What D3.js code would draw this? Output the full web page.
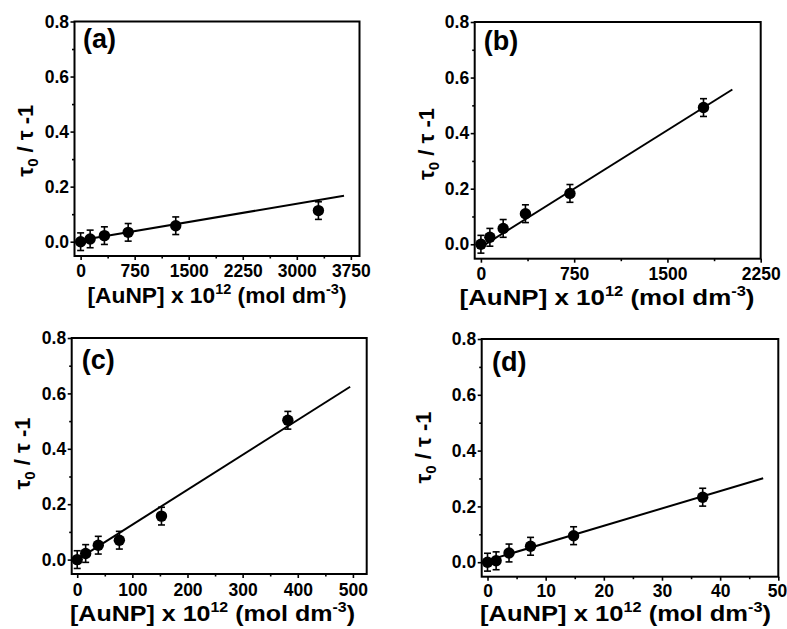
<!DOCTYPE html>
<html><head><meta charset="utf-8">
<script src="https://cdn.jsdelivr.net/npm/d3@7"></script>
<style>
body{margin:0;background:#fff}
svg{display:block}
text{font-family:"Liberation Sans",Arial,sans-serif;font-weight:bold;fill:#000}
</style>
</head><body>
<svg id="chart" width="787" height="629"></svg>
<script>
// ---------- data ----------
const panelNames = ["(a)", "(b)", "(c)", "(d)"];

const xA = [0, 132, 330, 660, 1320, 3300];
const yA = [0, 0.010, 0.022, 0.034, 0.058, 0.113];
const xB = [0, 72, 179, 358, 716, 1790];
const yB = [0, 0.025, 0.057, 0.110, 0.183, 0.492];
const xC = [0, 15.3, 38.2, 76.4, 152.8, 382];
const yC = [0, 0.022, 0.052, 0.070, 0.157, 0.503];
const xD = [0, 1.48, 3.7, 7.4, 14.8, 37];
const yD = [0, 0.005, 0.033, 0.057, 0.095, 0.233];

const errA = [0.032, 0.032, 0.032, 0.032, 0.032, 0.032];
const errB = [0.032, 0.032, 0.032, 0.032, 0.032, 0.032];
const errC = [0.032, 0.032, 0.032, 0.032, 0.032, 0.032];
const errD = [0.032, 0.032, 0.032, 0.032, 0.032, 0.032];

// linear fit endpoints
const fitXA = [0, 3655], fitYA = [0.005, 0.167];
const fitXB = [0, 2022], fitYB = [-0.01, 0.557];
const fitXC = [0, 495],  fitYC = [0.0, 0.624];
const fitXD = [0, 47.4], fitYD = [0.006, 0.301];

const xTicksA = [0, 750, 1500, 2250, 3000, 3750];
const xTicksB = [0, 750, 1500, 2250];
const xTicksC = [0, 100, 200, 300, 400, 500];
const xTicksD = [0, 10, 20, 30, 40, 50];
const xMinorA = [375, 1125, 1875, 2625, 3375];
const xMinorB = [375, 1125, 1875];
const xMinorC = [50, 150, 250, 350, 450];
const xMinorD = [5, 15, 25, 35, 45];
const yTicks = [0, 0.2, 0.4, 0.6, 0.8];
const yMinor = [0.1, 0.3, 0.5, 0.7];

const xDomains = [[-85, 3870], [-50, 2250], [-10, 525], [-1, 50]];
const yDomain = [-0.052, 0.8];

// ---------- layout ----------
const frames = [
  {l: 74.5, r: 359.5, t: 21.5, b: 256},
  {l: 474.7, r: 760.7, t: 22, b: 258.7},
  {l: 71.7, r: 366.7, t: 338, b: 574},
  {l: 481.7, r: 778.3, t: 339, b: 576.7}
];
const tickLblOffset = [20.7, 21.3, 21.5, 20.3];
const nameLbl = [{x: 83, y: 48}, {x: 483.7, y: 50.3}, {x: 81.7, y: 369.3}, {x: 492, y: 371}];
const yLbl = [{x: 32.5, y: 140.7}, {x: 434, y: 144}, {x: 30, y: 453.5}, {x: 431, y: 447.5}];
const xLbl = [{x: 217, y: 302.5, w: 259}, {x: 607, y: 304.5, w: 295}, {x: 212.5, y: 620.5, w: 285}, {x: 625.5, y: 621, w: 291}];

const panels = [
  {x: xA, y: yA, e: errA, fx: fitXA, fy: fitYA, t: xTicksA, m: xMinorA},
  {x: xB, y: yB, e: errB, fx: fitXB, fy: fitYB, t: xTicksB, m: xMinorB},
  {x: xC, y: yC, e: errC, fx: fitXC, fy: fitYC, t: xTicksC, m: xMinorC},
  {x: xD, y: yD, e: errD, fx: fitXD, fy: fitYD, t: xTicksD, m: xMinorD}
];

const svg = d3.select("#chart");

panels.forEach((p, i) => {
  const f = frames[i];
  const xs = d3.scaleLinear().domain(xDomains[i]).range([f.l, f.r]);
  const ys = d3.scaleLinear().domain(yDomain).range([f.b, f.t]);
  const g = svg.append("g");

  // minor ticks
  g.append("g").attr("transform", `translate(${f.l},0)`)
    .call(d3.axisLeft(ys).tickValues(yMinor).tickSize(2.5).tickFormat("").tickSizeOuter(0))
    .call(s => s.select(".domain").remove())
    .selectAll("line").attr("stroke-width", 1.6);
  g.append("g").attr("transform", `translate(0,${f.b})`)
    .call(d3.axisBottom(xs).tickValues(p.m).tickSize(2.5).tickFormat("").tickSizeOuter(0))
    .call(s => s.select(".domain").remove())
    .selectAll("line").attr("stroke-width", 1.6);

  // major ticks
  const ya = g.append("g").attr("transform", `translate(${f.l},0)`)
    .call(d3.axisLeft(ys).tickValues(yTicks).tickSize(4).tickPadding(1.5).tickFormat(d3.format(".1f")).tickSizeOuter(0));
  ya.select(".domain").remove();
  ya.selectAll("line").attr("stroke-width", 1.6);
  ya.selectAll("text").attr("font-size", 17.5).attr("font-family", null);

  const xa = g.append("g").attr("transform", `translate(0,${f.b})`)
    .call(d3.axisBottom(xs).tickValues(p.t).tickSize(4).tickFormat(d3.format("d")).tickSizeOuter(0));
  xa.select(".domain").remove();
  xa.selectAll("line").attr("stroke-width", 1.6);
  xa.selectAll("text").attr("font-size", 17.5).attr("font-family", null).attr("y", tickLblOffset[i]).attr("dy", 0)
    .attr("dx", d => (xs(d) + 10 > 787 ? 787 - 10 - xs(d) : 0));

  // frame
  g.append("rect").attr("x", f.l).attr("y", f.t)
    .attr("width", f.r - f.l).attr("height", f.b - f.t)
    .attr("fill", "none").attr("stroke", "#000").attr("stroke-width", 2);

  // fit line
  g.append("line")
    .attr("x1", xs(p.fx[0])).attr("y1", ys(p.fy[0]))
    .attr("x2", xs(p.fx[1])).attr("y2", ys(p.fy[1]))
    .attr("stroke", "#000").attr("stroke-width", 2);

  const pts = p.x.map((xv, k) => ({x: xv, y: p.y[k], e: p.e[k]}));
  // error bars
  const eb = g.append("g").attr("stroke", "#000").attr("stroke-width", 1.6);
  pts.forEach(d => {
    const cx = xs(d.x);
    eb.append("line").attr("x1", cx).attr("x2", cx).attr("y1", ys(d.y - d.e)).attr("y2", ys(d.y + d.e));
    eb.append("line").attr("x1", cx - 3.5).attr("x2", cx + 3.5).attr("y1", ys(d.y - d.e)).attr("y2", ys(d.y - d.e));
    eb.append("line").attr("x1", cx - 3.5).attr("x2", cx + 3.5).attr("y1", ys(d.y + d.e)).attr("y2", ys(d.y + d.e));
  });
  g.selectAll("circle.pt").data(pts).join("circle")
    .attr("class", "pt").attr("cx", d => xs(d.x)).attr("cy", d => ys(d.y))
    .attr("r", 5.7).attr("fill", "#000");

  // panel label
  g.append("text").attr("x", nameLbl[i].x).attr("y", nameLbl[i].y)
    .attr("font-size", 27).text(panelNames[i]);

  // y label
  const yt = g.append("text")
    .attr("transform", `translate(${yLbl[i].x},${yLbl[i].y}) rotate(-90)`)
    .attr("text-anchor", "middle").attr("font-size", 22);
  yt.append("tspan").text("τ");
  yt.append("tspan").attr("font-size", 15).attr("dy", 5).text("0");
  yt.append("tspan").attr("dy", -5).text(" / τ -1");

  // x label
  const xt = g.append("text").attr("x", xLbl[i].x).attr("y", xLbl[i].y)
    .attr("text-anchor", "middle").attr("font-size", 22)
    .attr("textLength", xLbl[i].w).attr("lengthAdjust", "spacingAndGlyphs");
  xt.append("tspan").text("[AuNP] x 10");
  xt.append("tspan").attr("font-size", 14).attr("dy", -9).text("12");
  xt.append("tspan").attr("dy", 9).text(" (mol dm");
  xt.append("tspan").attr("font-size", 14).attr("dy", -9).text("-3");
  xt.append("tspan").attr("dy", 9).text(")");
});
</script>
</body></html>
